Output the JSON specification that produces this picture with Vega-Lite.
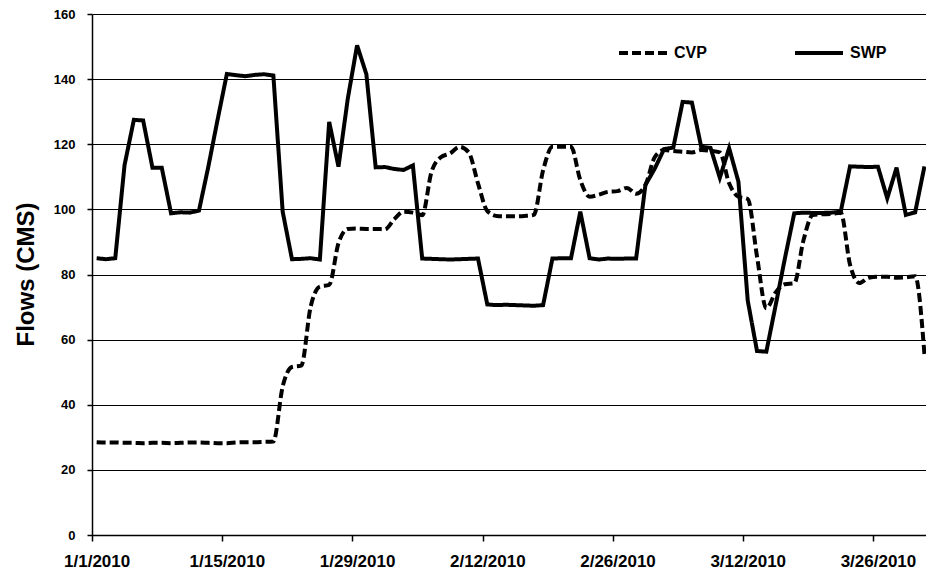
{
  "$schema": "https://vega.github.io/schema/vega-lite/v6.json",
  "width": 834,
  "height": 521,
  "autosize": {"type": "none"},
  "padding": {"left": 92, "top": 14, "right": 0, "bottom": 38},
  "background": "white",
  "config": {"view": {"stroke": null}, "font": "Liberation Sans"},
  "data": {"values": [
    {"date":"2010-01-01","CVP":28.5,"SWP":85.0},
    {"date":"2010-01-02","CVP":28.4,"SWP":84.7},
    {"date":"2010-01-03","CVP":28.4,"SWP":85.0},
    {"date":"2010-01-04","CVP":28.3,"SWP":113.6},
    {"date":"2010-01-05","CVP":28.3,"SWP":127.5},
    {"date":"2010-01-06","CVP":28.2,"SWP":127.3},
    {"date":"2010-01-07","CVP":28.3,"SWP":112.8},
    {"date":"2010-01-08","CVP":28.3,"SWP":112.8},
    {"date":"2010-01-09","CVP":28.2,"SWP":98.8},
    {"date":"2010-01-10","CVP":28.3,"SWP":99.1},
    {"date":"2010-01-11","CVP":28.4,"SWP":99.0},
    {"date":"2010-01-12","CVP":28.4,"SWP":99.6},
    {"date":"2010-01-13","CVP":28.3,"SWP":113.0},
    {"date":"2010-01-14","CVP":28.2,"SWP":127.5},
    {"date":"2010-01-15","CVP":28.2,"SWP":141.6},
    {"date":"2010-01-16","CVP":28.4,"SWP":141.2},
    {"date":"2010-01-17","CVP":28.5,"SWP":140.9},
    {"date":"2010-01-18","CVP":28.5,"SWP":141.3},
    {"date":"2010-01-19","CVP":28.6,"SWP":141.5},
    {"date":"2010-01-20","CVP":28.7,"SWP":141.1},
    {"date":"2010-01-21","CVP":45.6,"SWP":99.3},
    {"date":"2010-01-22","CVP":51.6,"SWP":84.7},
    {"date":"2010-01-23","CVP":52.0,"SWP":84.8},
    {"date":"2010-01-24","CVP":70.0,"SWP":85.0},
    {"date":"2010-01-25","CVP":76.3,"SWP":84.6},
    {"date":"2010-01-26","CVP":76.8,"SWP":126.9},
    {"date":"2010-01-27","CVP":89.6,"SWP":113.1},
    {"date":"2010-01-28","CVP":94.0,"SWP":134.0},
    {"date":"2010-01-29","CVP":94.1,"SWP":150.4},
    {"date":"2010-01-30","CVP":94.0,"SWP":141.5},
    {"date":"2010-01-31","CVP":94.0,"SWP":112.9},
    {"date":"2010-02-01","CVP":93.9,"SWP":113.0},
    {"date":"2010-02-02","CVP":97.0,"SWP":112.4},
    {"date":"2010-02-03","CVP":99.3,"SWP":112.1},
    {"date":"2010-02-04","CVP":99.0,"SWP":113.5},
    {"date":"2010-02-05","CVP":98.2,"SWP":84.9},
    {"date":"2010-02-06","CVP":111.5,"SWP":84.8},
    {"date":"2010-02-07","CVP":116.0,"SWP":84.7},
    {"date":"2010-02-08","CVP":117.2,"SWP":84.6},
    {"date":"2010-02-09","CVP":119.2,"SWP":84.7},
    {"date":"2010-02-10","CVP":117.5,"SWP":84.8},
    {"date":"2010-02-11","CVP":108.0,"SWP":84.9},
    {"date":"2010-02-12","CVP":99.5,"SWP":70.8},
    {"date":"2010-02-13","CVP":98.0,"SWP":70.6},
    {"date":"2010-02-14","CVP":97.9,"SWP":70.7},
    {"date":"2010-02-15","CVP":97.9,"SWP":70.6},
    {"date":"2010-02-16","CVP":98.0,"SWP":70.5},
    {"date":"2010-02-17","CVP":98.3,"SWP":70.4},
    {"date":"2010-02-18","CVP":112.0,"SWP":70.6},
    {"date":"2010-02-19","CVP":119.2,"SWP":84.9},
    {"date":"2010-02-20","CVP":119.2,"SWP":85.0},
    {"date":"2010-02-21","CVP":119.2,"SWP":85.0},
    {"date":"2010-02-22","CVP":109.0,"SWP":99.3},
    {"date":"2010-02-23","CVP":103.9,"SWP":85.0},
    {"date":"2010-02-24","CVP":104.5,"SWP":84.6},
    {"date":"2010-02-25","CVP":105.4,"SWP":84.9},
    {"date":"2010-02-26","CVP":105.6,"SWP":84.8},
    {"date":"2010-02-27","CVP":106.6,"SWP":84.9},
    {"date":"2010-02-28","CVP":104.8,"SWP":84.9},
    {"date":"2010-03-01","CVP":107.5,"SWP":107.5},
    {"date":"2010-03-02","CVP":116.0,"SWP":112.5},
    {"date":"2010-03-03","CVP":118.2,"SWP":118.5},
    {"date":"2010-03-04","CVP":117.9,"SWP":119.0},
    {"date":"2010-03-05","CVP":117.7,"SWP":133.0},
    {"date":"2010-03-06","CVP":117.5,"SWP":132.8},
    {"date":"2010-03-07","CVP":118.2,"SWP":119.2},
    {"date":"2010-03-08","CVP":118.0,"SWP":118.9},
    {"date":"2010-03-09","CVP":117.5,"SWP":109.7},
    {"date":"2010-03-10","CVP":108.0,"SWP":118.8},
    {"date":"2010-03-11","CVP":103.9,"SWP":108.5},
    {"date":"2010-03-12","CVP":103.2,"SWP":72.0},
    {"date":"2010-03-13","CVP":85.5,"SWP":56.5},
    {"date":"2010-03-14","CVP":69.6,"SWP":56.3},
    {"date":"2010-03-15","CVP":74.5,"SWP":70.5},
    {"date":"2010-03-16","CVP":77.0,"SWP":85.0},
    {"date":"2010-03-17","CVP":77.3,"SWP":98.8},
    {"date":"2010-03-18","CVP":90.6,"SWP":99.0},
    {"date":"2010-03-19","CVP":98.3,"SWP":98.9},
    {"date":"2010-03-20","CVP":98.5,"SWP":98.9},
    {"date":"2010-03-21","CVP":98.6,"SWP":99.0},
    {"date":"2010-03-22","CVP":99.0,"SWP":99.3},
    {"date":"2010-03-23","CVP":83.0,"SWP":113.2},
    {"date":"2010-03-24","CVP":77.4,"SWP":113.1},
    {"date":"2010-03-25","CVP":79.0,"SWP":113.0},
    {"date":"2010-03-26","CVP":79.3,"SWP":113.1},
    {"date":"2010-03-27","CVP":79.3,"SWP":103.4},
    {"date":"2010-03-28","CVP":79.0,"SWP":112.8},
    {"date":"2010-03-29","CVP":79.1,"SWP":98.3},
    {"date":"2010-03-30","CVP":79.5,"SWP":99.1},
    {"date":"2010-03-31","CVP":55.5,"SWP":113.2}
  ]},
  "transform": [{"fold": ["CVP", "SWP"], "as": ["series", "flow"]}],
  "encoding": {
    "x": {
      "field": "date",
      "type": "temporal",
      "scale": {
        "type": "utc",
        "domain": [
          {"year": 2009, "month": 12, "date": 31, "hours": 12, "utc": true},
          {"year": 2010, "month": 3, "date": 31, "hours": 4, "utc": true}
        ]
      },
      "axis": {
        "title": null,
        "values": [
          {"year": 2010, "month": 1, "date": 1, "utc": true},
          {"year": 2010, "month": 1, "date": 15, "utc": true},
          {"year": 2010, "month": 1, "date": 29, "utc": true},
          {"year": 2010, "month": 2, "date": 12, "utc": true},
          {"year": 2010, "month": 2, "date": 26, "utc": true},
          {"year": 2010, "month": 3, "date": 12, "utc": true},
          {"year": 2010, "month": 3, "date": 26, "utc": true}
        ],
        "format": "%-m/%-d/%Y",
        "grid": false,
        "domainColor": "black",
        "domainWidth": 1.5,
        "tickColor": "black",
        "tickWidth": 1.5,
        "tickSize": 6,
        "tickOffset": -4.6,
        "labelOffset": 4.6,
        "labelFont": "Liberation Sans",
        "labelFontWeight": "bold",
        "labelFontSize": 17,
        "labelColor": "black",
        "labelPadding": 12,
        "labelFlush": false,
        "labelOverlap": false
      }
    },
    "y": {
      "field": "flow",
      "type": "quantitative",
      "scale": {"domain": [0, 160], "nice": false, "zero": true},
      "axis": {
        "title": "Flows (CMS)",
        "values": [0, 20, 40, 60, 80, 100, 120, 140, 160],
        "grid": true,
        "gridColor": "black",
        "gridWidth": 1,
        "gridOpacity": 1,
        "domainColor": "black",
        "domainWidth": 1.5,
        "tickColor": "black",
        "tickWidth": 1.5,
        "tickSize": 5,
        "labelFont": "Liberation Sans",
        "labelFontWeight": "bold",
        "labelFontSize": 13,
        "labelColor": "black",
        "labelPadding": 12,
        "titleFont": "Liberation Sans",
        "titleFontWeight": "bold",
        "titleFontSize": 24,
        "titleColor": "black",
        "titleAngle": 270,
        "titleAlign": "center",
        "titleBaseline": "alphabetic",
        "titleX": -59,
        "titleY": 260
      }
    },
    "strokeDash": {
      "field": "series",
      "type": "nominal",
      "scale": {"domain": ["CVP", "SWP"], "range": [[9, 4], [1, 0]]},
      "legend": {
        "title": null,
        "orient": "none",
        "legendX": 525,
        "legendY": 13,
        "direction": "horizontal",
        "padding": 0,
        "symbolType": "stroke",
        "symbolSize": 2304,
        "symbolStrokeWidth": 4,
        "symbolStrokeColor": "black",
        "labelFont": "Liberation Sans",
        "labelFontWeight": "bold",
        "labelFontSize": 16,
        "labelColor": "black",
        "labelOffset": 5,
        "columnPadding": 80
      }
    }
  },
  "layer": [
    {
      "transform": [{"filter": "datum.series === 'CVP'"}],
      "mark": {"type": "line", "interpolate": "monotone", "strokeWidth": 4, "color": "black"}
    },
    {
      "transform": [{"filter": "datum.series === 'SWP'"}],
      "mark": {"type": "line", "strokeWidth": 4, "color": "black"}
    }
  ]
}
